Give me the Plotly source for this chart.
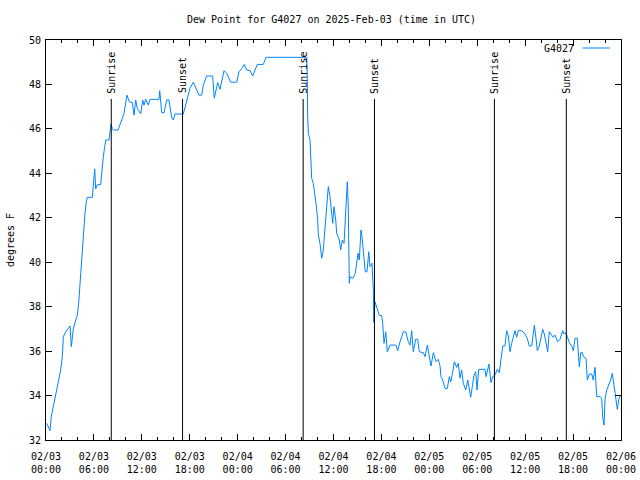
import plotly.graph_objects as go

# hours since 2025-02-03 00:00 UTC
hours = [0.09, 0.50, 0.66, 1.00, 1.34, 1.63, 1.84, 2.04, 2.17, 2.47, 2.67, 3.01, 3.17, 3.42, 3.72, 3.92,
         4.09, 4.26, 4.47, 4.63, 4.76, 4.88, 5.05, 5.17, 5.80, 5.92, 6.01, 6.10, 6.22, 6.42, 6.85, 7.01,
         7.18, 7.35, 7.48, 7.89, 8.01, 8.14, 8.30, 8.43, 9.02, 9.27, 9.55, 9.77, 9.98, 10.14, 10.43, 10.81,
         11.02, 11.23, 11.43, 11.86, 12.11, 12.27, 12.48, 12.81, 13.02, 14.15, 14.24, 14.36, 14.49, 14.78,
         15.11, 15.40, 15.74, 15.94, 16.15, 17.19, 17.62, 18.03, 18.45, 18.87, 19.16, 19.50, 19.70, 20.12,
         20.87, 21.07, 21.29, 21.50, 21.79, 22.08, 22.29, 22.63, 23.13, 23.88, 24.17, 24.51, 24.83, 25.13,
         25.55, 25.88, 26.17, 26.46, 27.21, 27.55, 32.64, 32.71, 32.77, 32.85, 33.06, 33.27, 33.47, 33.68,
         33.81, 34.02, 34.10, 34.31, 34.52, 34.72, 34.94, 35.15, 35.35, 35.56, 35.69, 35.90, 36.06, 36.28,
         36.40, 36.73, 36.90, 37.10, 37.32, 37.48, 37.65, 37.73, 37.85, 37.90, 37.98, 38.07, 38.41, 38.73,
         38.91, 39.07, 39.23, 39.44, 39.57, 39.78, 39.98, 40.20, 40.41, 40.57, 40.82, 40.99, 41.04, 41.20,
         41.41, 41.74, 42.04, 42.16, 42.33, 42.54, 42.74, 43.08, 43.83, 44.04, 44.33, 44.74, 45.04, 45.37,
         45.58, 45.79, 45.99, 46.29, 46.54, 46.75, 47.25, 47.46, 47.75, 48.00, 48.21, 48.50, 48.84, 49.12,
         49.34, 49.46, 49.67, 49.96, 50.25, 50.50, 50.68, 50.93, 51.13, 51.43, 51.63, 51.84, 52.05, 52.26,
         52.56, 52.81, 53.01, 53.18, 53.38, 53.59, 53.81, 53.97, 54.18, 54.97, 55.10, 55.26, 55.47, 55.72,
         55.94, 56.22, 56.51, 56.76, 57.06, 57.19, 57.47, 57.69, 57.89, 58.10, 58.31, 58.52, 58.73, 58.94,
         59.14, 59.57, 59.98, 60.27, 60.52, 60.82, 61.02, 61.15, 61.36, 61.52, 61.77, 61.98, 62.20, 62.40,
         62.61, 62.82, 63.02, 63.32, 63.52, 63.74, 64.08, 64.36, 64.70, 64.87, 65.12, 65.28, 65.53, 65.83,
         66.03, 66.24, 66.53, 66.78, 66.96, 67.16, 67.28, 67.62, 67.78, 68.03, 68.33, 68.53, 68.75, 68.96,
         69.37, 69.58, 69.71, 69.87, 70.00, 70.21, 70.41, 70.71, 70.91, 71.13, 71.38, 71.54, 71.75, 72.00]

dew_point = [32.75, 32.42, 33.05, 33.66, 34.10, 34.70, 35.15, 35.75, 36.65, 36.87, 36.95, 37.13, 36.20, 37.00, 37.40, 37.60,
             38.15, 39.05, 40.25, 41.00, 41.60, 42.20, 42.72, 42.92, 42.92, 43.40, 43.85, 44.20, 43.30, 43.48, 43.50, 44.20,
             44.75, 45.20, 45.50, 45.50, 45.98, 46.22, 46.02, 45.95, 45.95, 46.25, 46.47, 46.70, 47.30, 47.52, 47.22, 47.18,
             46.62, 47.30, 46.93, 46.67, 47.30, 47.07, 47.33, 47.07, 47.33, 47.33, 47.72, 47.07, 46.73, 46.73,
             47.30, 47.30, 46.50, 46.40, 46.67, 46.67, 47.30, 47.83, 48.10, 47.75, 47.52, 47.52, 47.97, 48.38,
             48.38, 47.38, 47.75, 48.08, 47.78, 48.28, 48.62, 48.50, 48.10, 48.10, 48.57, 48.72, 48.90, 48.65,
             48.62, 48.38, 48.65, 48.90, 48.90, 49.22, 49.22, 48.50, 46.55, 45.80, 45.50, 43.78, 43.55, 43.10,
             42.65, 41.90, 41.22, 40.85, 40.18, 40.55, 41.45, 42.35, 43.40, 42.95, 42.50, 41.75, 42.50, 41.90,
             41.30, 41.00, 40.55, 41.00, 40.85, 41.75, 42.87, 43.62, 42.50, 40.25, 39.05, 39.35, 39.27, 39.50,
             40.10, 40.40, 40.10, 41.45, 41.15, 40.25, 39.57, 39.57, 40.47, 39.80, 39.95, 38.75, 37.30, 38.22,
             38.00, 37.60, 37.60, 37.25, 36.35, 36.87, 35.97, 36.27, 36.27, 36.02, 36.42, 36.87, 36.87, 36.42,
             36.27, 36.92, 35.97, 36.53, 36.53, 35.97, 35.93, 35.75, 36.27, 35.67, 35.33, 35.93, 35.52, 35.63,
             35.33, 34.85, 34.70, 34.32, 34.32, 34.85, 34.62, 35.07, 35.52, 35.27, 35.45, 34.78, 35.15, 34.55,
             34.25, 34.70, 34.25, 33.92, 34.40, 34.92, 35.07, 34.25, 35.18, 35.18, 34.85, 35.18, 35.42, 34.58,
             34.85, 34.92, 35.18, 35.03, 35.75, 36.23, 36.23, 36.92, 36.68, 35.97, 36.35, 36.65, 36.92, 36.62,
             36.92, 36.92, 36.77, 36.57, 36.23, 36.23, 36.77, 37.17, 36.57, 36.02, 36.23, 36.53, 36.98, 36.77,
             36.35, 35.97, 36.87, 36.72, 36.62, 36.72, 36.42, 36.53, 36.92, 36.77, 36.83, 36.65, 36.38, 36.23,
             36.02, 36.57, 36.57, 35.30, 35.93, 35.93, 35.75, 35.67, 34.70, 34.97, 34.97, 34.70, 35.27, 33.95,
             33.95, 33.88, 33.02, 32.67, 33.80, 34.25, 34.40, 34.70, 35.00, 34.40, 33.65, 33.38, 33.88, 34.03]

series_name = "G4027"
sun_events = [8.17, 17.10, 32.20, 41.13, 56.15, 65.15]
sun_labels = ["Sunrise", "Sunset", "Sunrise", "Sunset", "Sunrise", "Sunset"]
sun_line_top = 47.35

tick_hours = [0, 6, 12, 18, 24, 30, 36, 42, 48, 54, 60, 66, 72]
tick_labels = ["02/03<br>00:00", "02/03<br>06:00", "02/03<br>12:00", "02/03<br>18:00",
               "02/04<br>00:00", "02/04<br>06:00", "02/04<br>12:00", "02/04<br>18:00",
               "02/05<br>00:00", "02/05<br>06:00", "02/05<br>12:00", "02/05<br>18:00",
               "02/06<br>00:00"]

FONT = "DejaVu Sans Mono"
LINE_COLOR = "rgb(0,132,255)"

fig = go.Figure()
fig.add_trace(go.Scatter(x=hours, y=dew_point, mode="lines", name=series_name, showlegend=False,
                         line=dict(color=LINE_COLOR, width=1)))

for t, lab in zip(sun_events, sun_labels):
    fig.add_shape(type="line", x0=t, x1=t, y0=32, y1=sun_line_top, xref="x", yref="y",
                  line=dict(color="black", width=1))
    fig.add_annotation(x=t, y=sun_line_top + 0.15, xref="x", yref="y", text=lab, textangle=-90,
                       showarrow=False, xanchor="center", yanchor="bottom",
                       font=dict(family=FONT, size=10, color="black"))

# gnuplot-style key: label on the left, line sample on the right
fig.add_annotation(x=0.922, y=0.98, xref="paper", yref="paper", text=series_name, showarrow=False,
                   xanchor="right", yanchor="middle", font=dict(family=FONT, size=10, color="black"))
fig.add_shape(type="line", x0=0.933, x1=0.981, y0=0.98, y1=0.98, xref="paper", yref="paper",
              line=dict(color=LINE_COLOR, width=1))

fig.update_layout(
    width=640, height=480,
    margin=dict(l=46, r=19, t=40, b=40, autoexpand=False),
    paper_bgcolor="white", plot_bgcolor="white",
    font=dict(family=FONT, size=10, color="black"),
    title=dict(text="Dew Point for G4027 on 2025-Feb-03 (time in UTC)", x=0.518, xanchor="center",
               y=0.96, yanchor="middle", font=dict(family=FONT, size=10)),
    showlegend=False,
)
fig.update_xaxes(range=[0, 72], tickvals=tick_hours, ticktext=tick_labels, showgrid=False, zeroline=False,
                 automargin=False, ticklabelstandoff=7,
                 showline=True, linecolor="black", linewidth=1, mirror="allticks",
                 ticks="inside", ticklen=6, tickcolor="black",
                 minor=dict(dtick=2, ticks="inside", ticklen=3, tickcolor="black", showgrid=False))
fig.update_yaxes(range=[32, 50], dtick=2, showgrid=False, zeroline=False, automargin=False,
                 ticklabelstandoff=2,
                 showline=True, linecolor="black", linewidth=1, mirror="allticks",
                 ticks="inside", ticklen=6, tickcolor="black",
                 title=dict(text="degrees F", standoff=12, font=dict(family=FONT, size=10)))

fig.write_html("out.html")
